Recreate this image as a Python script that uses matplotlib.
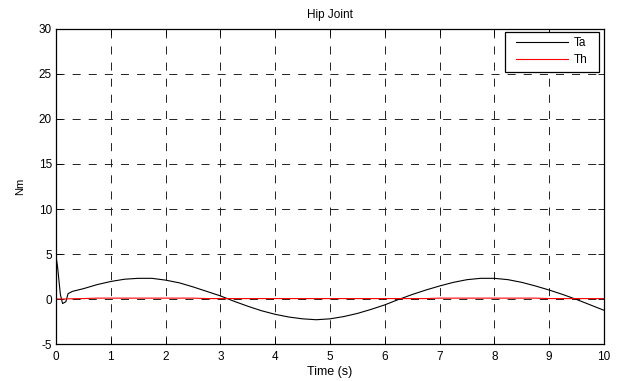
import matplotlib
matplotlib.use("Agg")
import matplotlib.pyplot as plt
from matplotlib.patches import Rectangle

plt.rcParams['font.family'] = ['Liberation Sans', 'DejaVu Sans']
plt.rcParams['font.size'] = 8.5
plt.rcParams['lines.scale_dashes'] = False
plt.rcParams['axes.unicode_minus'] = False

# values
time = [0, 0.03, 0.08, 0.12, 0.18, 0.22, 0.3, 0.5, 0.75, 1.0, 1.25, 1.5, 1.75,
        2.0, 2.25, 2.5, 2.75, 3.0, 3.25, 3.5, 3.75, 4.0, 4.25, 4.5, 4.75,
        5.0, 5.25, 5.5, 5.75, 6.0, 6.25, 6.5, 6.75, 7.0, 7.25, 7.5, 7.75,
        8.0, 8.25, 8.5, 8.75, 9.0, 9.25, 9.5, 9.75, 10.0]
ta = [4.8, 3.5, 0.5, -0.5, -0.3, 0.6, 0.85, 1.15, 1.6, 1.95, 2.2, 2.3, 2.3,
      2.1, 1.8, 1.35, 0.85, 0.35, -0.25, -0.8, -1.3, -1.7, -2.0, -2.2, -2.3,
      -2.2, -1.95, -1.6, -1.15, -0.65, -0.05, 0.5, 1.0, 1.45, 1.85, 2.15, 2.3,
      2.3, 2.15, 1.85, 1.45, 1.0, 0.5, -0.05, -0.65, -1.25]
th = [0.0, 0.0, 0.0, 0.0, 0.0, 0.02, 0.03, 0.05, 0.1, 0.1, 0.1, 0.1, 0.1,
      0.1, 0.1, 0.1, 0.05, 0.05, 0.05, 0.05, 0.05, 0.05, 0.05, 0.05, 0.05,
      0.05, 0.05, 0.05, 0.05, 0.05, 0.05, 0.05, 0.05, 0.1, 0.1, 0.1, 0.1,
      0.1, 0.1, 0.1, 0.1, 0.05, 0.05, 0.05, 0.05, 0.05]

fig = plt.figure(figsize=(6.27, 3.81), dpi=100)
ax = fig.add_axes([0.0893, 0.097, 0.874, 0.827])

ax.plot(time, ta, color='black', linewidth=0.8, label='Ta')
ax.plot(time, th, color='red', linewidth=0.8, label='Th')

ax.set_xlim(0, 10)
ax.set_ylim(-5, 30)
ax.set_xticks(range(0, 11))
ax.set_yticks(range(-5, 31, 5))
ax.grid(True, color='#222222', linestyle=(0, (5.8, 5.8)), linewidth=0.7)
ax.tick_params(direction='in', length=4, width=0.6, top=True, right=True)
ax.tick_params(axis='x', pad=5)
ax.tick_params(axis='y', pad=3)
for s in ax.spines.values():
    s.set_linewidth(0.9)

ax.set_title('Hip Joint', fontsize=8.5, pad=8)
ax.set_xlabel('Time (s)', fontsize=9, labelpad=2)
ax.set_ylabel('Nm', fontsize=8, labelpad=10)

# legend box drawn by hand, entries placed inside it
ax.add_patch(Rectangle((0.819, 0.8635), 0.172, 0.127, transform=ax.transAxes,
                       facecolor='white', edgecolor='black', linewidth=0.9, zorder=4))
leg = ax.legend(loc='upper left', bbox_to_anchor=(0.839, 0.973), frameon=False,
                borderaxespad=0, borderpad=0, handlelength=4.4, handletextpad=0.53,
                labelspacing=0.4)
leg.set_zorder(5)

fig.savefig('out.png', dpi=100)
